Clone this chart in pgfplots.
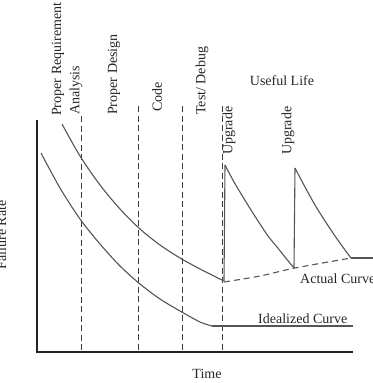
\documentclass[border=0pt]{standalone}
\usepackage{fontspec}
\setmainfont{Liberation Serif}
\usepackage{pgfplots}
\pgfplotsset{compat=1.18}
\definecolor{curvegray}{RGB}{85,85,85}
\definecolor{axiscol}{RGB}{35,35,35}
\definecolor{dashcol}{RGB}{60,60,60}
\tikzset{
  lab/.style={font=\fontsize{14bp}{16bp}\selectfont, inner sep=0pt, text=black!85},
  vdash/.style={color=dashcol, line width=1bp, dash pattern=on 6bp off 3.5bp},
  crv/.style={color=curvegray, line width=1.1bp},
}
\begin{document}
\begin{tikzpicture}
\begin{axis}[scale only axis, width=373bp, height=383bp,
  xmin=0, xmax=373, ymin=0, ymax=383, y dir=reverse,
  hide axis, clip=false,
]
% axes
\addplot[no marks, color=axiscol, line width=1.2bp] coordinates {(37,120) (37,352) (353,352)};
% phase separators
\addplot[no marks, vdash] coordinates {(81,116) (81,352)};
\addplot[no marks, vdash] coordinates {(138,106) (138,352)};
\addplot[no marks, vdash] coordinates {(182,106) (182,352)};
\addplot[no marks, vdash] coordinates {(222,106) (222,352)};
% idealized curve
\addplot[no marks, crv, smooth] coordinates {(41,153) (60,188) (80,219) (100,244) (120,266) (140,284) (160,299) (180,311) (200,322) (212,326)};
\addplot[no marks, crv] coordinates {(212,326) (353,326)};
% actual curve
\addplot[no marks, crv, smooth] coordinates {(62,124) (80,156) (100,185) (120,209) (140,229) (160,245) (180,258) (200,269) (224,281)};
\addplot[no marks, crv] coordinates {(224,281) (225,165)};
\addplot[no marks, crv, smooth] coordinates {(225,165) (234,182) (243,197) (251,210) (260,224) (268,236) (277,247) (285,257) (294,268)};
\addplot[no marks, crv] coordinates {(294,268) (295,168)};
\addplot[no marks, crv, smooth] coordinates {(295,168) (305,187) (315,205) (325,221) (335,236) (345,250) (351,258)};
\addplot[no marks, crv] coordinates {(351,258) (373,258)};
% trend of actual curve
\addplot[no marks, color=curvegray, line width=1.1bp, dash pattern=on 6bp off 4bp, smooth] coordinates {(224,282) (260,276) (295,268) (351,258)};
% labels
\node[lab, rotate=90, anchor=west] at (axis cs:58,116) {Proper Requirement};
\node[lab, rotate=90, anchor=west] at (axis cs:76,115) {Analysis};
\node[lab, rotate=90, anchor=west] at (axis cs:114,115) {Proper Design};
\node[lab, rotate=90, anchor=west] at (axis cs:157,112) {Code};
\node[lab, rotate=90, anchor=west] at (axis cs:202,115) {Test/ Debug};
\node[lab, rotate=90, anchor=west] at (axis cs:229,155) {Upgrade};
\node[lab, rotate=90, anchor=west] at (axis cs:288,155) {Upgrade};
\node[lab] at (axis cs:282,81) {Useful Life};
\node[lab, anchor=base west] at (axis cs:300,283) {Actual Curve};
\node[lab, anchor=base west] at (axis cs:258,323) {Idealized Curve};
\node[lab] at (axis cs:207,374) {Time};
\node[lab, rotate=90, anchor=base] at (axis cs:6,235) {Failure Rate};
\end{axis}
\pgfresetboundingbox
\path (current axis.south west) rectangle (current axis.north east);
\end{tikzpicture}
\end{document}
